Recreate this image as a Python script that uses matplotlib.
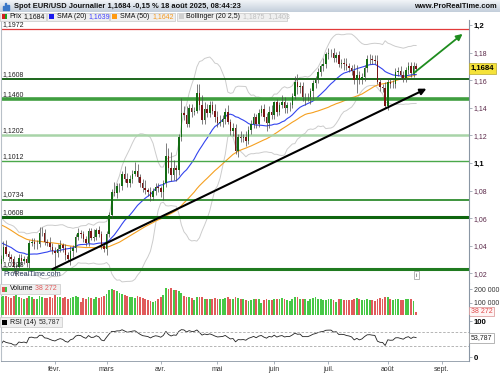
import numpy as np
import pandas as pd
import matplotlib
matplotlib.use("Agg")
import matplotlib.pyplot as plt
from matplotlib.patches import Rectangle
from matplotlib.colors import LinearSegmentedColormap
from matplotlib.transforms import blended_transform_factory

plt.rcParams['font.family'] = ['Liberation Sans', 'DejaVu Sans']

# daily closes, 21 Oct 2024 -> 31 Dec 2024 (only used to warm up SMA / Bollinger / RSI)
closes_2024 = [1.0817, 1.0797, 1.0783, 1.0828, 1.0797, 1.0815, 1.0817, 1.0855, 1.0884,
               1.0833, 1.0878, 1.0930, 1.0729, 1.0800, 1.0719, 1.0655, 1.0622, 1.0565, 1.0529,
               1.0541, 1.0597, 1.0596, 1.0543, 1.0473, 1.0419, 1.0496, 1.0487, 1.0567, 1.0553, 1.0577,
               1.0498, 1.0511, 1.0512, 1.0587, 1.0567, 1.0554, 1.0529, 1.0497, 1.0467, 1.0502,
               1.0513, 1.0490, 1.0353, 1.0363, 1.0430, 1.0406, 1.0406, 1.0400, 1.0421, 1.0427,
               1.0409, 1.0354]

# daily closes, 1 Jan 2025 -> 18 Aug 2025
closes_2025 = [
    # jan
    1.0352, 1.0266, 1.0307, 1.0389, 1.0342, 1.0318, 1.0302, 1.0244, 1.0244, 1.0308,
    1.0290, 1.0301, 1.0272, 1.0420, 1.0429, 1.0410, 1.0413, 1.0493, 1.0493, 1.0429,
    1.0421, 1.0390, 1.0362,
    # feb
    1.0346, 1.0378, 1.0402, 1.0383, 1.0330, 1.0307, 1.0362, 1.0383, 1.0464, 1.0492,
    1.0484, 1.0447, 1.0422, 1.0505, 1.0459, 1.0464, 1.0512, 1.0486, 1.0398, 1.0375,
    # mar
    1.0485, 1.0624, 1.0790, 1.0783, 1.0833, 1.0833, 1.0920, 1.0886, 1.0853, 1.0881,
    1.0922, 1.0944, 1.0901, 1.0853, 1.0816, 1.0802, 1.0791, 1.0752, 1.0799, 1.0828, 1.0816,
    # apr
    1.0791, 1.0852, 1.1050, 1.0960, 1.0910, 1.0960, 1.0950, 1.1190, 1.1360, 1.1350,
    1.1280, 1.1400, 1.1370, 1.1380, 1.1510, 1.1420, 1.1310, 1.1390, 1.1360, 1.1420,
    1.1380, 1.1330,
    # may
    1.1290, 1.1300, 1.1315, 1.1370, 1.1300, 1.1230, 1.1250, 1.1090, 1.1190, 1.1180,
    1.1190, 1.1160, 1.1240, 1.1280, 1.1330, 1.1280, 1.1360, 1.1390, 1.1330, 1.1290,
    1.1370, 1.1350,
    # jun
    1.1440, 1.1370, 1.1420, 1.1445, 1.1395, 1.1420, 1.1420, 1.1485, 1.1585, 1.1550,
    1.1560, 1.1480, 1.1480, 1.1480, 1.1520, 1.1580, 1.1610, 1.1660, 1.1700, 1.1720, 1.1790,
    # jul
    1.1800, 1.1800, 1.1760, 1.1780, 1.1720, 1.1725, 1.1720, 1.1700, 1.1690, 1.1670,
    1.1600, 1.1640, 1.1600, 1.1625, 1.1690, 1.1750, 1.1755, 1.1745, 1.1740, 1.1590,
    1.1550, 1.1545, 1.1415,
    # aug
    1.1590, 1.1570, 1.1575, 1.1660, 1.1665, 1.1640, 1.1615, 1.1675, 1.1705, 1.1650,
    1.1702, 1.1684]

# wicks in pips above / below the candle body
wick_up = [15, 40, 25, 45, 50, 20, 20, 25, 30, 35, 30, 25, 25, 20, 30, 25, 30, 40, 40, 30, 20, 40, 30,
           30, 35, 40, 20, 30, 25, 35, 25, 20, 40, 20, 25, 20, 23, 25, 60, 20, 30, 20, 20,
           20, 20, 20, 75, 20, 20, 25, 60, 40, 30, 30, 60, 50, 20, 30, 60, 20, 35, 20, 25, 25,
           20, 25, 97, 55, 120, 60, 25, 20, 114, 50, 60, 30, 30, 25, 63, 60, 75, 50, 40, 30, 30, 45,
           50, 45, 30, 25, 50, 20, 40, 30, 20, 40, 20, 40, 30, 30, 30, 25, 30, 30, 40, 30, 40, 50,
           10, 20, 20, 50, 30, 20, 20, 20, 45, 60, 25, 25, 25, 25, 20, 20, 20, 30, 20, 40, 15,
           30, 25, 30, 25, 30, 25, 35, 40, 25, 20, 45, 70, 25, 30, 20, 30, 35, 30, 40, 40, 25, 20, 45,
           20, 20, 25, 25, 30, 35, 25, 20, 25, 30, 30, 20]
wick_dn = [20, 45, 35, 20, 15, 25, 20, 40, 66, 20, 30, 20, 25, 30, 25, 30, 30, 20, 20, 20, 25, 20, 20,
           136, 30, 25, 25, 35, 20, 45, 40, 30, 20, 25, 20, 25, 25, 20, 25, 25, 20, 20, 20,
           40, 25, 20, 20, 35, 45, 30, 25, 30, 30, 25, 20, 40, 30, 25, 30, 30, 30, 20, 30, 30,
           35, 60, 25, 35, 40, 30, 80, 40, 30, 40, 20, 20, 40, 25, 15, 35, 25, 30, 30, 30, 25, 30,
           30, 25, 40, 35, 20, 30, 35, 25, 50, 25, 30, 40, 25, 30, 30, 25, 20, 20, 25, 60, 40, 35,
           30, 30, 25, 25, 30, 30, 40, 25, 25, 50, 40, 30, 60, 30, 50, 60, 40, 30, 30, 30, 30,
           35, 35, 30, 25, 25, 35, 45, 25, 30, 30, 25, 90, 30, 30, 30, 30, 30, 30, 25, 20, 30, 30, 20,
           30, 25, 30, 30, 30, 30, 30, 30, 30, 30, 30, 25]

# daily volume (thousands)
volume_k = [60, 140, 145, 150, 148, 140, 135, 150, 155, 140, 138, 130, 135, 150, 145, 130, 128, 150, 140, 138, 135, 140, 135,
            160, 145, 140, 135, 140, 130, 135, 140, 150, 145, 110, 135, 130, 140, 138, 132, 140, 138, 142, 150,
            165, 190, 200, 195, 185, 170, 165, 155, 150, 145, 140, 138, 150, 140, 135, 130, 120, 115, 110, 112, 125,
            140, 160, 205, 200, 210, 190, 195, 185, 175, 150, 140, 145, 135, 120, 140, 145, 140, 125, 130, 128, 130, 135,
            125, 130, 128, 135, 140, 130, 125, 145, 135, 130, 128, 120, 115, 118, 125, 130, 128, 100, 120, 125, 122, 118,
            128, 130, 125, 135, 130, 120, 115, 125, 140, 145, 130, 128, 125, 115, 130, 135, 140, 130, 125, 120, 118,
            130, 125, 120, 110, 125, 128, 120, 118, 122, 120, 130, 135, 128, 120, 122, 125, 118, 120, 115, 130, 135, 128, 140,
            140, 125, 120, 128, 130, 118, 120, 125, 130, 128, 115, 38.272]

# horizontal levels drawn on the chart
levels = [1.1608, 1.1460, 1.1202, 1.1012, 1.0734, 1.0608, 1.0228]
level_labels = ['1,1608', '1,1460', '1,1202', '1,1012', '1,0734', '1,0608', '1,0228']
level_colors = ['#0b5a0b', '#3f9e3f', '#a8d4a8', '#4aa84a', '#2e8b2e', '#0e650e', '#1f7a1f']
level_widths = [1.3, 2.6, 1.8, 1.0, 1.3, 2.2, 2.2]
red_level = 1.1972

# trend arrows
trend_dates = ['2025-01-31', '2025-08-22']
trend_prices = [1.0230, 1.1538]
green_dates = ['2025-08-15', '2025-09-11']
green_prices = [1.1650, 1.1935]

price_ticks = [1.2, 1.18, 1.16, 1.14, 1.12, 1.1, 1.08, 1.06, 1.04, 1.02]
price_tick_labels = ['1,2', '1,18', '1,16', '1,14', '1,12', '1,1', '1,08', '1,06', '1,04', '1,02']
month_names = ['févr.', 'mars', 'avr.', 'mai', 'juin', 'juil.', 'août', 'sept.']

# ---- derived series
closes = np.array(closes_2024 + closes_2025)
s = pd.Series(closes)
sma20 = s.rolling(20).mean()
sma50 = s.rolling(50).mean()
sd20 = s.rolling(20).std(ddof=0)
bb_up = sma20 + 2.5 * sd20
bb_dn = sma20 - 2.5 * sd20
delta = s.diff()
gain = delta.clip(lower=0).ewm(alpha=1 / 14, adjust=False).mean()
loss = (-delta.clip(upper=0)).ewm(alpha=1 / 14, adjust=False).mean()
rsi = 100 - 100 / (1 + gain / loss)

all_dates = pd.bdate_range('2024-10-21', '2025-09-30')
pos = {d: i for i, d in enumerate(all_dates)}
i0 = len(closes_2024)
xs = np.arange(i0, len(closes))
c = np.array(closes_2025)
o = closes[i0 - 1:len(closes) - 1]
hi = np.maximum(o, c) + np.array(wick_up) / 10000
lo = np.minimum(o, c) - np.array(wick_dn) / 10000
up = c >= o

month_pos = [pos[all_dates[(all_dates.year == 2025) & (all_dates.month == m)][0]] for m in range(2, 10)]

# ---- figure
W, H = 500, 375
fig = plt.figure(figsize=(5, 3.75), dpi=100)


def fx(p):
    return p / W


def fy(p):
    return 1 - p / H


ax = fig.add_axes([fx(1), fy(283), (469 - 1) / W, (283 - 20) / H])
axv = fig.add_axes([fx(1), fy(315), (469 - 1) / W, 32 / H], sharex=ax)
axr = fig.add_axes([fx(1), fy(361), (469 - 1) / W, 46 / H], sharex=ax)

# header band
axh = fig.add_axes([0, fy(12), 1, 12 / H])
grad = np.linspace(0, 1, 50).reshape(-1, 1)
axh.imshow(grad, aspect='auto', cmap=LinearSegmentedColormap.from_list('h', ['#f2f5f8', '#c3cedb']))
axh.axis('off')
fig.text(fx(14), fy(6.3), 'Spot EUR/USD Journalier 1,1684 -0,15 % 18 août 2025, 08:44:23',
         fontsize=5.4, fontweight='bold', va='center', color='#111111')
fig.text(fx(497), fy(6.3), 'www.ProRealTime.com', fontsize=5.4, fontweight='bold', va='center',
         ha='right', color='#111111')
for k, hgt in enumerate([4, 7, 5]):
    fig.add_artist(Rectangle((fx(3 + 2.2 * k), fy(10)), 1.2 / W, hgt / H, transform=fig.transFigure,
                             color='#3a78c8'))

# ---- main price panel
xmin, xmax = 54.07, 235.5
ax.set_xlim(xmin, xmax)
ax.set_ylim(1.0130, 1.2036)

ax.plot(np.arange(len(closes)), bb_up, color='#cccccc', lw=0.7)
ax.plot(np.arange(len(closes)), bb_dn, color='#cccccc', lw=0.7)
ax.plot(np.arange(len(closes)), sma50, color='#f5a020', lw=0.8)
ax.plot(np.arange(len(closes)), sma20, color='#3344ee', lw=0.8)

for lv, lab, col, lw in zip(levels, level_labels, level_colors, level_widths):
    ax.axhline(lv, color=col, lw=lw, zorder=2)
    ax.text(0.004, lv + 0.0009, lab, transform=blended_transform_factory(ax.transAxes, ax.transData),
            fontsize=5, va='bottom', ha='left', color='#222222', zorder=6)
ax.axhline(red_level, color='#e23a3a', lw=0.9, zorder=2)
ax.text(0.004, red_level + 0.0006, '1,1972', transform=blended_transform_factory(ax.transAxes, ax.transData),
        fontsize=5, va='bottom', ha='left', color='#222222', zorder=1)

ax.vlines(xs, lo, hi, color='#4a4a4a', lw=0.5, zorder=4)
ax.bar(xs[up], (c - o)[up], bottom=o[up], width=0.6, color='#126b12', zorder=5)
ax.bar(xs[~up], (o - c)[~up], bottom=c[~up], width=0.6, color='#7a1414', zorder=5)

tx = [pos[pd.Timestamp(d)] for d in trend_dates]
ax.annotate('', xy=(tx[1], trend_prices[1]), xytext=(tx[0], trend_prices[0]),
            arrowprops=dict(arrowstyle='-|>', color='black', lw=1.5, mutation_scale=9,
                            shrinkA=0, shrinkB=0), zorder=7)
gx = [pos[pd.Timestamp(d)] for d in green_dates]
ax.annotate('', xy=(gx[1], green_prices[1]), xytext=(gx[0], green_prices[0]),
            arrowprops=dict(arrowstyle='-|>', color='#1e8c1e', lw=1.3, mutation_scale=9,
                            shrinkA=0, shrinkB=0), zorder=7)

ax.yaxis.tick_right()
ax.set_yticks(price_ticks)
ax.set_yticklabels(price_tick_labels)
for lab in ax.get_yticklabels():
    if lab.get_text() in ('1,2', '1,1'):
        lab.set_fontweight('bold')
        lab.set_color('black')
        lab.set_fontsize(5.6)
    else:
        lab.set_color('#5a2848')
        lab.set_fontsize(5)
ax.tick_params(axis='y', length=2, width=0.5, color='#8a96a4', pad=1.5)
ax.tick_params(axis='x', bottom=False, labelbottom=False)
ax.text(1.004, 1.1684, '1,1684', transform=blended_transform_factory(ax.transAxes, ax.transData),
        fontsize=5.6, fontweight='bold', va='center', ha='left', clip_on=False,
        bbox=dict(boxstyle='square,pad=0.25', fc='#f5e23a', ec='#b8a830', lw=0.5))
ax.text(0.005, 0.018, 'ProRealTime.com', transform=ax.transAxes, fontsize=5.2, color='#2c3c5c',
        va='bottom', ha='left')
ax.text(0.887, 0.03, 'i', transform=ax.transAxes, fontsize=4.5, color='#555555', ha='center', va='center',
        bbox=dict(boxstyle='square,pad=0.3', fc='white', ec='#999999', lw=0.5))

# ---- volume panel
vol = np.array(volume_k) * 1000
axv.bar(xs[up], vol[up], width=0.7, color='#46c846', zorder=3)
axv.bar(xs[~up], vol[~up], width=0.7, color='#e05a5a', zorder=3)
axv.set_ylim(14000, 243000)
axv.yaxis.tick_right()
axv.set_yticks([100000, 200000])
axv.set_yticklabels(['100 000', '200 000'], fontsize=5, color='#333333')
axv.tick_params(axis='y', length=2, width=0.5, color='#8a96a4', pad=1.5)
axv.tick_params(axis='x', bottom=False, labelbottom=False)
axv.text(1.004, 38272, '38 272', transform=blended_transform_factory(axv.transAxes, axv.transData),
         fontsize=5, va='center', ha='left', color='#e04848', clip_on=False,
         bbox=dict(boxstyle='square,pad=0.2', fc='#fff4f4', ec='#d89090', lw=0.5))

# ---- RSI panel
axr.plot(np.arange(len(closes)), rsi, color='#222222', lw=0.6)
axr.axhline(70, color='#aaaaaa', lw=0.6, ls=(0, (3, 2)))
axr.axhline(30, color='#aaaaaa', lw=0.6, ls=(0, (3, 2)))
axr.set_ylim(-11.1, 116.7)
axr.yaxis.tick_right()
axr.set_yticks([0, 100])
axr.set_yticklabels(['0', '100'], fontsize=5.6, fontweight='bold')
axr.tick_params(axis='y', length=2, width=0.5, color='#8a96a4', pad=1.5)
axr.text(1.004, 53.787, '53,787', transform=blended_transform_factory(axr.transAxes, axr.transData),
         fontsize=5, va='center', ha='left', color='#222222', clip_on=False,
         bbox=dict(boxstyle='square,pad=0.2', fc='white', ec='#999999', lw=0.5))
axr.set_xticks(month_pos)
axr.set_xticklabels(month_names, fontsize=5, color='#333333')
axr.tick_params(axis='x', length=2, width=0.5, color='#8a96a4', pad=1.5)

for a in (ax, axv, axr):
    a.set_facecolor('white')
    a.spines['top'].set_visible(False)
    a.spines['left'].set_color('#b8c0c8')
    a.spines['left'].set_linewidth(0.8)
    a.spines['right'].set_color('#8a96a4')
    a.spines['right'].set_linewidth(0.8)
for a in (ax, axv):
    a.spines['bottom'].set_visible(False)
axr.spines['bottom'].set_color('#8a96a4')
axr.spines['bottom'].set_linewidth(0.6)

# ---- legend boxes
def box(x0, x1, y0, y1):
    fig.add_artist(Rectangle((fx(x0), fy(y1)), (x1 - x0) / W, (y1 - y0) / H, transform=fig.transFigure,
                             fc='#efefef', ec='#c8c8c8', lw=0.5))


def square(x0, y0, col, size=5):
    fig.add_artist(Rectangle((fx(x0), fy(y0 + size)), size / W, size / H, transform=fig.transFigure,
                             fc=col, ec='none'))


def label(x, y, t, col='#111111', **kw):
    fig.text(fx(x), fy(y), t, fontsize=5, color=col, va='center', ha='left', **kw)


ly = 16.3
box(0, 46, 12.5, 20.5)
fig.add_artist(Rectangle((fx(2), fy(19)), 2.5 / W, 5 / H, transform=fig.transFigure, fc='#d42020', ec='none'))
fig.add_artist(Rectangle((fx(4.5), fy(19)), 2.5 / W, 5 / H, transform=fig.transFigure, fc='#20a020', ec='none'))
label(9.5, ly, 'Prix')
label(23, ly, '1,1684')
box(47, 109, 12.5, 20.5)
square(49, 14, '#1a1aee')
label(57, ly, 'SMA (20)')
label(88, ly, '1,1639', col='#4040ff')
box(110, 175, 12.5, 20.5)
square(112, 14, '#ff9a10')
label(120, ly, 'SMA (50)')
label(152, ly, '1,1642', col='#f59a20')
box(177, 287, 12.5, 20.5)
square(179, 14, '#d0d0d0')
label(186, ly, 'Bollinger (20 2,5)')
label(243, ly, '1,1875  1,1403', col='#c0c0c0')

box(0, 60, 284, 294)
fig.add_artist(Rectangle((fx(2), fy(291.5)), 2.5 / W, 5 / H, transform=fig.transFigure, fc='#e05050', ec='none'))
fig.add_artist(Rectangle((fx(4.5), fy(291.5)), 2.5 / W, 5 / H, transform=fig.transFigure, fc='#40c040', ec='none'))
label(9.5, 289, 'Volume')
label(35, 289, '38 272', col='#e05a5a')
box(0, 62, 316.5, 327)
square(2, 319.5, '#000000')
label(9.5, 322, 'RSI (14)')
label(39, 322, '53,787', col='#333333')

fig.savefig('out.png', dpi=100, facecolor='white')
